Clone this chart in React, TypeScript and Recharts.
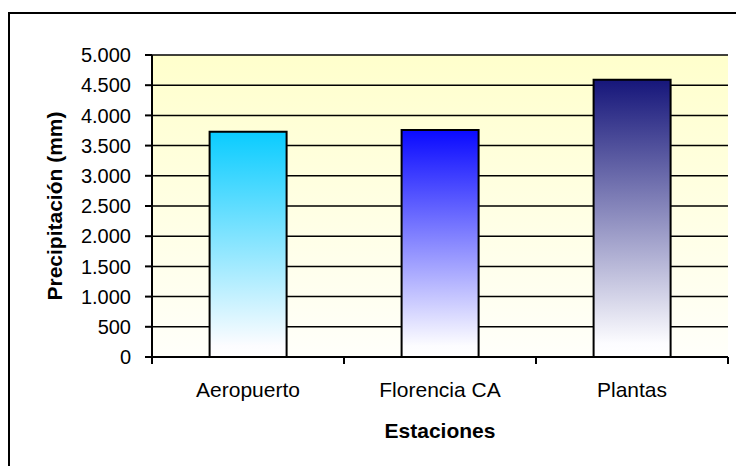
import React from "react";
import { BarChart, Bar, XAxis, YAxis, CartesianGrid, Cell, Label } from "recharts";

const categories = ["Aeropuerto", "Florencia CA", "Plantas"];
const precipitation = [3730, 3757, 4590];
const yTicks = [0, 500, 1000, 1500, 2000, 2500, 3000, 3500, 4000, 4500, 5000];
const barTopColors = ["#0ACCFF", "#0A0AFF", "#16167A"];

const data = categories.map((name, i) => ({ name, value: precipitation[i] }));

const FONT = "'Liberation Sans', Arial, sans-serif";

const fmt = (v: number) => v.toLocaleString("de-DE");

const XTick = (props: any) => {
  const { x, y, payload, index } = props;
  const half = payload && payload.offset ? payload.offset : 96;
  const last = index === categories.length - 1;
  return (
    <g>
      <line x1={x - half} y1={y} x2={x - half} y2={y + 7} stroke="#000" strokeWidth={2} />
      {last && <line x1={x + half} y1={y} x2={x + half} y2={y + 7} stroke="#000" strokeWidth={2} />}
      <text x={x} y={y + 40} textAnchor="middle" fontFamily={FONT} fontSize={21} fill="#000">
        {payload.value}
      </text>
    </g>
  );
};

export default function App() {
  return (
    <div style={{ position: "fixed", left: 0, top: 0, width: 736, height: 466, background: "#fff", overflow: "hidden" }}>
      <div style={{ position: "absolute", left: 8, top: 12, width: 760, height: 480, border: "2px solid #000", boxSizing: "border-box" }} />
      <div style={{ position: "absolute", left: 0, top: 0 }}>
        <BarChart
          width={736}
          height={466}
          data={data}
          margin={{ top: 55, right: 8, bottom: 0, left: 0 }}
          barCategoryGap="30%"
        >
          <defs>
            <linearGradient id="plotBg" x1="0" y1="0" x2="0" y2="1">
              <stop offset="0%" stopColor="#FFFFCC" />
              <stop offset="100%" stopColor="#FFFFFA" />
            </linearGradient>
            {barTopColors.map((c, i) => (
              <linearGradient key={i} id={`barGrad${i}`} x1="0" y1="0" x2="0" y2="1">
                <stop offset="0%" stopColor={c} />
                <stop offset="95%" stopColor="#FCFCFF" />
                <stop offset="100%" stopColor="#FFFFFF" />
              </linearGradient>
            ))}
          </defs>
          <CartesianGrid
            vertical={false}
            stroke="#000"
            strokeWidth={1.5}
            fill="url(#plotBg)"
            fillOpacity={1}
          />
          <XAxis
            dataKey="name"
            height={109}
            tickLine={false}
            tickSize={0}
            tickMargin={0}
            axisLine={{ stroke: "#000", strokeWidth: 2 }}
            tick={<XTick />}
            interval={0}
          >
            <Label
              value="Estaciones"
              position="center"
              dy={19}
              style={{ fontFamily: FONT, fontSize: 21, fontWeight: "bold", fill: "#000" }}
            />
          </XAxis>
          <YAxis
            width={152}
            domain={[0, 5000]}
            ticks={yTicks}
            interval={0}
            tickFormatter={fmt}
            tickSize={7}
            tickMargin={14}
            tickLine={{ stroke: "#000", strokeWidth: 2 }}
            axisLine={{ stroke: "#000", strokeWidth: 2 }}
            tick={{ fontFamily: FONT, fontSize: 20, fill: "#000" }}
          >
            <Label
              value="Precipitación (mm)"
              angle={-90}
              position="center"
              dx={-21}
              style={{ fontFamily: FONT, fontSize: 21, fontWeight: "bold", fill: "#000", textAnchor: "middle" }}
            />
          </YAxis>
          <YAxis
            yAxisId="frame"
            orientation="right"
            width={0}
            domain={[0, 5000]}
            tick={false}
            tickLine={false}
            axisLine={{ stroke: "#999", strokeWidth: 1.5 }}
          />
          <Bar dataKey="value" stroke="#000" strokeWidth={2} isAnimationActive={false}>
            {data.map((_, i) => (
              <Cell key={i} fill={`url(#barGrad${i})`} />
            ))}
          </Bar>
        </BarChart>
      </div>
    </div>
  );
}
